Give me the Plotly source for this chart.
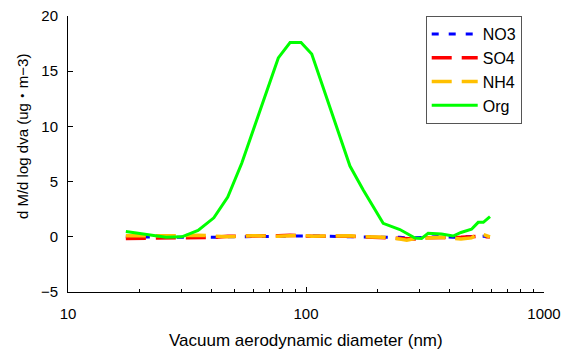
import plotly.graph_objects as go

# Vacuum aerodynamic diameter (nm)
diameter = [17.5, 25.8, 30.1, 35.2, 41.0, 46.9, 53.7, 60.1, 76.5, 85.7, 95.3, 105.7,
            153, 174, 211, 248, 265, 287, 306, 326, 371, 415, 448, 496, 529, 556, 593]

no3 = [0.0, -0.05, -0.05, 0.0, -0.05, 0.0, 0.0, 0.05, 0.05, 0.05, 0.08, 0.08, 0.0,
       0.0, -0.05, -0.05, -0.1, -0.1, -0.05, -0.05, 0.05, -0.05, 0.0, 0.05, 0.05, 0.05, 0.0]
so4 = [-0.15, -0.12, -0.1, -0.1, -0.05, 0.05, 0.05, 0.1, 0.1, 0.15, 0.1, 0.05, 0.05,
       0.0, -0.05, -0.1, -0.15, -0.2, -0.1, -0.1, -0.05, -0.1, -0.05, 0.0, 0.05, 0.0, 0.0]
nh4 = [0.1, 0.05, 0.1, 0.15, 0.1, 0.0, 0.05, 0.1, 0.05, 0.1, 0.15, 0.05, 0.1,
       0.0, -0.05, -0.2, -0.3, -0.15, -0.15, -0.1, -0.05, -0.15, -0.2, -0.1, 0.3, 0.2, 0.0]
org = [0.48, -0.05, 0.0, 0.58, 1.72, 3.6, 6.66, 9.7, 16.2, 17.6, 17.6, 16.56,
       6.41, 4.24, 1.22, 0.66, 0.32, -0.11, -0.15, 0.32, 0.25, 0.07, 0.39, 0.68, 1.31, 1.31, 1.82]

x_ticks = [10, 100, 1000]
y_ticks = [-5, 0, 5, 10, 15, 20]

FONT = "Liberation Sans, Arial, Noto Sans CJK JP, sans-serif"

fig = go.Figure()
fig.add_trace(go.Scatter(x=diameter, y=no3, name="NO3", mode="lines",
                         line=dict(color="#0000FF", width=3, dash="7px,10px")))
fig.add_trace(go.Scatter(x=diameter, y=so4, name="SO4", mode="lines",
                         line=dict(color="#FF0000", width=3.5, dash="20px,10px")))
fig.add_trace(go.Scatter(x=diameter, y=nh4, name="NH4", mode="lines",
                         line=dict(color="#FFC000", width=3.5, dash="20px,10px")))
fig.add_trace(go.Scatter(x=diameter, y=org, name="Org", mode="lines",
                         line=dict(color="#00FF00", width=3)))

# The page body has an 8px default margin, so the figure is sized to end at the window edge.
fig.update_layout(
    width=562, height=342,
    margin=dict(l=60, r=26, t=8, b=58, autoexpand=False),
    paper_bgcolor="white", plot_bgcolor="white",
    font=dict(family=FONT, size=15, color="black"),
    showlegend=True,
    legend=dict(x=0.7515, y=1.0, xanchor="left", yanchor="top",
                bordercolor="#555555", borderwidth=1, bgcolor="white",
                font=dict(size=16), tracegroupgap=0,
                itemwidth=46),
    xaxis=dict(type="log", range=[1, 3], tickvals=x_ticks, ticktext=[str(v) for v in x_ticks],
               ticks="inside", ticklen=5, tickcolor="black",
               showline=True, linecolor="black", linewidth=1,
               showgrid=False, zeroline=False, automargin=False,
               minor=dict(ticks="inside", ticklen=3, tickcolor="black", dtick="D1", showgrid=False),
               ticklabelstandoff=8, ticklabeloverflow="allow"),
    yaxis=dict(range=[-5, 20], tickvals=y_ticks,
               ticks="inside", ticklen=5, tickcolor="black",
               showline=True, linecolor="black", linewidth=1,
               showgrid=False, zeroline=False, automargin=False,
               ticklabelstandoff=6, ticklabeloverflow="allow"),
    annotations=[
        dict(text="Vacuum aerodynamic diameter (nm)", xref="paper", yref="paper",
             x=0.5, y=-0.174, xanchor="center", yanchor="middle", showarrow=False,
             font=dict(size=17)),
        dict(text="d M/d log dva (ug・m−3)", xref="paper", yref="paper",
             x=-0.0966, y=0.565, xanchor="center", yanchor="middle", showarrow=False,
             textangle=-90, font=dict(size=15)),
    ],
)

fig.write_html("out.html")
